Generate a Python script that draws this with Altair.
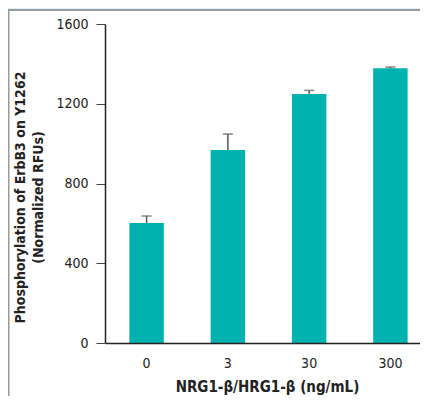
import altair as alt
import pandas as pd

doses = ["0", "3", "30", "300"]
means = [602, 968, 1249, 1378]
errors = [35, 80, 18, 6]

df = pd.DataFrame({"dose": doses, "mean": means, "err": errors})
df["upper"] = df["mean"] + df["err"]

FONT = "DejaVu Sans Condensed, sans-serif"
BAR = "#00b2af"

xscale = alt.Scale(domain=doses, range=[0, 327], paddingInner=0.576, paddingOuter=0.3)
yscale = alt.Scale(domain=[0, 1600], nice=False)

x_axis = alt.Axis(
    title="NRG1-β/HRG1-β (ng/mL)", labelAngle=0, ticks=False, labelPadding=13,
    labelFontSize=14, labelFont=FONT, labelColor="#222",
    titleFontSize=15, titleFont=FONT, titleFontWeight="bold", titleColor="#222",
    titlePadding=9, titleX=162, titleAnchor="middle",
    domainColor="#222", domainWidth=1.5, zindex=2,
)
y_axis = alt.Axis(
    title=["Phosphorylation of ErbB3 on Y1262", "(Normalized RFUs)"],
    values=[0, 200, 400, 600, 800, 1000, 1200, 1400, 1600],
    labelExpr="datum.value % 400 == 0 ? datum.label : ''",
    format="d", grid=False, tickSize=9, tickColor="#444", tickWidth=1,
    labelFontSize=14, labelFont=FONT, labelColor="#222", labelPadding=8,
    titleFontSize=14, titleFont=FONT, titleFontWeight="bold", titleColor="#222",
    titleAngle=-90, titleX=-92, titleY=173, titleBaseline="top", titleAlign="center",
    titleLineHeight=18,
    domainColor="#222", domainWidth=1.5, zindex=2,
)

panel = alt.Chart(pd.DataFrame({"a": [0]})).mark_rect(
    fill="white", stroke="#9a9a9a", strokeWidth=2
).encode(
    x=alt.value(-96.5), x2=alt.value(420), y=alt.value(-14), y2=alt.value(420)
)

base = alt.Chart(df)
bars = base.mark_bar(color=BAR).encode(
    x=alt.X("dose:N", sort=doses, scale=xscale, axis=x_axis),
    y=alt.Y("mean:Q", scale=yscale, axis=y_axis),
)
rules = base.mark_rule(color="#555", strokeWidth=1.5).encode(
    x=alt.X("dose:N", sort=doses, scale=xscale),
    y="mean:Q",
    y2="upper:Q",
)
caps = base.mark_tick(color="#555", size=10, thickness=1.5, orient="horizontal").encode(
    x=alt.X("dose:N", sort=doses, scale=xscale),
    y=alt.Y("upper:Q", scale=yscale),
)

chart = alt.layer(panel, bars, rules, caps).properties(
    width=315, height=319,
    background="#deeefa",
    padding={"left": 97, "top": 16, "right": 0, "bottom": 53},
    autosize=alt.AutoSizeParams(type="none"),
).configure_view(stroke=None)

chart.save("out.html", embed_options={"renderer": "svg", "actions": False})
